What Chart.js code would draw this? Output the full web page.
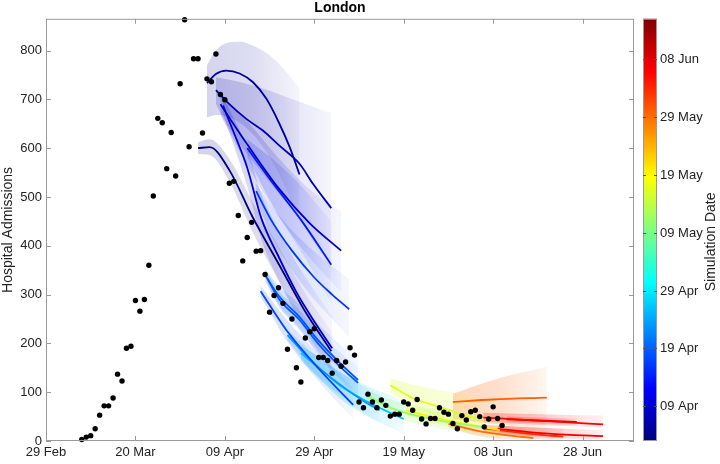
<!DOCTYPE html>
<html>
<head>
<meta charset="utf-8">
<title>London hospital admissions</title>
<script src="https://cdn.jsdelivr.net/npm/chart.js@4"></script>
<style>
  html, body { margin: 0; padding: 0; background: #fff; }
  #wrap { width: 720px; height: 464px; }
</style>
</head>
<body>
<div id="wrap"><canvas id="chart"></canvas></div>
<script>
// all x values are days counted from 29 Feb
const xTickDays = [0, 20, 40, 60, 80, 100, 120];
const xTickLabels = ["29 Feb", "20 Mar", "09 Apr", "29 Apr", "19 May", "08 Jun", "28 Jun"];
const yTicks = [0, 100, 200, 300, 400, 500, 600, 700, 800];
const cbTickDays = [40, 50, 60, 70, 80, 90, 100];
const cbTickLabels = ["09 Apr", "19 Apr", "29 Apr", "09 May", "19 May", "29 May", "08 Jun"];
const cbRange = [34, 107]; // 03 Apr .. 15 Jun

// daily admissions, first value is 08 Mar
const admissionsFirstDay = 8;
const admissions = [
  3, 8, 11, 25, 53, 72, 72, 88, 137, 123,
  190, 194, 288, 266, 290, 360, 502, 661, 652, 558,
  632, 543, 732, 863, 603, 783, 783, 631, 742, 736,
  793, 710, 699, 528, 532, 462, 369, 417, 448, 389,
  390, 341, 264, 298, 314, 282, 188, 250, 150, 121,
  211, 224, 230, 171, 171, 165, 139, 165, 153, 162,
  191, 176, 80, 68, 96, 80, 68, 84, 73, 51,
  55, 55, 80, 76, 63, 85, 45, 35, 46, 46,
  68, 59, 55, 36, 25, 52, 43, 60, 63, 50,
  29, 45, 70, 46, 32
];

// projections: simulation date, days, central line, upper and lower band
const simDays = [34, 36, 38, 39, 39.6, 45, 47, 49, 49.5, 48, 54, 57, 72, 77, 80.5, 90, 91, 95, 98, 99, 100];
const projDays = [
  [34, 36.6, 41, 46.2, 52.2, 57.8, 63.8],
  [36, 38, 40.3, 43.3, 46.3, 49.3, 52.2, 54.5, 56.7],
  [38, 41, 44.8, 48.5, 52.2, 56.7, 59.7, 63.8],
  [39, 45, 52, 59, 66],
  [39.6, 42, 45, 48.2, 52, 56, 60, 64],
  [45, 51, 57.1, 63.8],
  [47, 50.4, 55, 60, 64, 67.8],
  [49, 52, 56.7, 61, 65.7, 69.8],
  [49.5, 52, 56.7, 61, 65.7, 69.8],
  [48, 53.7, 61.2, 68.7],
  [54, 60, 66, 71, 74.6],
  [57, 61, 66, 72, 80],
  [71.6, 76, 80.6, 88, 97.8],
  [77, 82, 88, 93, 97.8],
  [80.5, 86, 92, 97, 101.5],
  [90, 96, 102, 109],
  [91, 100, 112],
  [97.8, 104, 110, 115.7],
  [97.8, 106, 115, 124.6],
  [101, 108, 116, 124.6],
  [103, 110, 118.7]
];
const projMid = [
  [600, 602, 555, 459, 360, 268, 184],
  [733, 752, 759, 753, 735, 701, 650, 602, 546],
  [719, 690, 660, 636, 605, 568, 527, 477],
  [690, 608, 518, 446, 390],
  [687, 632, 560, 455, 378, 305, 245, 190],
  [600, 525, 452, 361],
  [512, 452, 390, 335, 300, 270],
  [340, 298, 254, 205, 160, 125],
  [333, 292, 248, 198, 153, 119],
  [307, 228, 146, 74],
  [217, 158, 114, 82, 63],
  [180, 150, 112, 80, 45],
  [94, 72, 57, 42, 28],
  [114, 88, 70, 55, 43],
  [63, 50, 38, 30, 22],
  [35, 22, 13, 6],
  [80, 85, 89],
  [26, 19, 13, 9],
  [48, 44, 39, 34],
  [25, 18, 13, 10],
  [45, 42, 39]
];
const projHi = [
  [612, 618, 578, 490, 395, 305, 225],
  [770, 800, 815, 818, 810, 795, 772, 748, 722],
  [745, 740, 732, 722, 710, 695, 685, 672],
  [712, 655, 580, 515, 470],
  [705, 662, 600, 505, 432, 365, 308, 255],
  [618, 575, 522, 450],
  [528, 482, 432, 388, 358, 332],
  [352, 318, 280, 238, 198, 168],
  [343, 308, 268, 222, 182, 152],
  [318, 250, 175, 110],
  [228, 178, 140, 112, 95],
  [195, 172, 140, 112, 82],
  [105, 88, 76, 64, 52],
  [128, 115, 104, 97, 90],
  [72, 62, 52, 46, 40],
  [42, 32, 26, 22],
  [97, 125, 152],
  [34, 30, 27, 25],
  [58, 56, 54, 52],
  [32, 28, 25, 22],
  [50, 48, 46]
];
const projLo = [
  [588, 586, 532, 428, 325, 232, 145],
  [663, 668, 666, 652, 628, 592, 545, 500, 455],
  [690, 640, 590, 548, 505, 455, 410, 350],
  [668, 565, 460, 375, 305],
  [670, 605, 522, 412, 330, 258, 195, 140],
  [582, 478, 388, 282],
  [496, 420, 350, 290, 250, 212],
  [328, 280, 230, 178, 128, 90],
  [323, 276, 228, 175, 125, 88],
  [296, 208, 120, 45],
  [206, 140, 92, 58, 38],
  [165, 128, 85, 50, 15],
  [84, 58, 42, 25, 10],
  [100, 72, 50, 36, 25],
  [54, 38, 25, 16, 8],
  [28, 12, 4, 0],
  [45, 35, 25],
  [18, 10, 4, 0],
  [40, 35, 31, 27],
  [18, 10, 5, 2],
  [40, 36, 33]
];

const FONT = "'Liberation Sans', Arial, sans-serif";

function jet(f) {
  const c = v => Math.max(0, Math.min(1, v));
  return [
    c(Math.min(4 * f - 1.5, -4 * f + 4.5)),
    c(Math.min(4 * f - 0.5, -4 * f + 3.5)),
    c(Math.min(4 * f + 0.5, -4 * f + 2.5))
  ].map(v => Math.round(v * 255));
}
function rgba(c, a) {
  return `rgba(${c[0]},${c[1]},${c[2]},${a})`;
}
function simFrac(d) {
  return (d - cbRange[0]) / (cbRange[1] - cbRange[0]);
}

// band fades out towards the end of the projection
function bandFill(i) {
  return function(context) {
    const chart = context.chart;
    const xs = chart.scales.x;
    if (!chart.chartArea || !xs) return 'rgba(0,0,0,0)';
    const days = projDays[i];
    const x0 = xs.getPixelForValue(days[0]);
    const x1 = xs.getPixelForValue(days[days.length - 1]);
    const g = chart.ctx.createLinearGradient(x0, 0, x1 + 1, 0);
    const f = simFrac(simDays[i]);
    const c = jet(f);
    const a = f < 0.3 ? 0.17 : 0.26;
    g.addColorStop(0, rgba(c, a));
    g.addColorStop(0.5, rgba(c, a * 0.75));
    g.addColorStop(1, rgba(c, a * 0.2));
    return g;
  };
}

const datasets = [];
datasets.push({
  label: 'Admissions',
  data: admissions.map((v, i) => ({ x: admissionsFirstDay + i, y: v })),
  showLine: false,
  pointRadius: 2.7,
  pointBackgroundColor: '#000',
  pointBorderWidth: 0,
  clip: false,
  order: 1
});
simDays.forEach((d, i) => {
  const col = jet(simFrac(d));
  const pts = arr => projDays[i].map((x, k) => ({ x: x, y: arr[k] }));
  datasets.push({
    data: pts(projHi[i]), fill: '+1', backgroundColor: bandFill(i),
    borderColor: 'rgba(0,0,0,0)', borderWidth: 0, pointRadius: 0,
    cubicInterpolationMode: 'monotone', order: 3
  });
  datasets.push({
    data: pts(projLo[i]), fill: false,
    borderColor: 'rgba(0,0,0,0)', borderWidth: 0, pointRadius: 0,
    cubicInterpolationMode: 'monotone', order: 3
  });
  datasets.push({
    data: pts(projMid[i]), fill: false,
    borderColor: rgba(col, 1), borderWidth: 1.8, pointRadius: 0,
    cubicInterpolationMode: 'monotone', order: 2
  });
});

// box, inward ticks and the colour bar
const frame = {
  id: 'frame',
  afterDatasetsDraw(chart) {
    const { ctx, chartArea: a, scales } = chart;
    ctx.save();
    ctx.strokeStyle = '#9a9a9a';
    ctx.lineWidth = 1;
    ctx.strokeRect(a.left + 0.5, a.top + 0.5, a.right - a.left - 1, a.bottom - a.top - 1);
    ctx.beginPath();
    xTickDays.forEach(v => {
      const px = Math.round(scales.x.getPixelForValue(v)) + 0.5;
      ctx.moveTo(px, a.bottom); ctx.lineTo(px, a.bottom - 5);
      ctx.moveTo(px, a.top); ctx.lineTo(px, a.top + 5);
    });
    yTicks.forEach(v => {
      const py = Math.round(scales.y.getPixelForValue(v)) + 0.5;
      ctx.moveTo(a.left, py); ctx.lineTo(a.left + 5, py);
      ctx.moveTo(a.right, py); ctx.lineTo(a.right - 5, py);
    });
    ctx.stroke();

    // colour bar
    const bx = a.right + 9, bw = 14, top = a.top, bot = a.bottom;
    const g = ctx.createLinearGradient(0, bot, 0, top);
    for (let k = 0; k <= 64; k++) g.addColorStop(k / 64, rgba(jet(k / 64), 1));
    ctx.fillStyle = g;
    ctx.fillRect(bx, top, bw, bot - top);
    ctx.strokeStyle = '#9a9a9a';
    ctx.strokeRect(bx + 0.5, top + 0.5, bw - 1, bot - top - 1);
    ctx.fillStyle = '#222';
    ctx.font = `13px ${FONT}`;
    ctx.textBaseline = 'middle';
    ctx.textAlign = 'left';
    ctx.beginPath();
    cbTickDays.forEach((d, k) => {
      const py = Math.round(bot - simFrac(d) * (bot - top)) + 0.5;
      ctx.moveTo(bx + bw - 3, py); ctx.lineTo(bx + bw, py);
      ctx.moveTo(bx, py); ctx.lineTo(bx + 3, py);
      ctx.fillText(cbTickLabels[k], bx + bw + 3, py);
    });
    ctx.strokeStyle = '#555';
    ctx.stroke();
    ctx.translate(bx + bw + 54, (top + bot) / 2 + 12);
    ctx.rotate(-Math.PI / 2);
    ctx.textAlign = 'center';
    ctx.font = `14px ${FONT}`;
    ctx.fillText('Simulation Date', 0, 0);
    ctx.restore();
  }
};

Chart.defaults.font.family = FONT;
Chart.defaults.font.size = 13;
Chart.defaults.color = '#222';

new Chart(document.getElementById('chart'), {
  type: 'line',
  data: { datasets: datasets },
  options: {
    responsive: true,
    maintainAspectRatio: false,
    animation: false,
    events: [],
    layout: { padding: { left: 0, right: 86, top: 0, bottom: 0 } },
    plugins: {
      legend: { display: false },
      tooltip: { enabled: false },
      title: {
        display: true, text: 'London', fullSize: false, color: '#000',
        font: { size: 14, weight: 'bold' }, padding: { top: 0, bottom: 2 }
      }
    },
    scales: {
      x: {
        type: 'linear', min: 0, max: 131.5,
        grid: { display: false, drawTicks: false },
        border: { display: false },
        afterBuildTicks: s => { s.ticks = xTickDays.map(v => ({ value: v })); },
        afterFit: s => { s.height = 23; },
        ticks: {
          autoSkip: false, maxRotation: 0, padding: 4,
          callback: v => xTickLabels[xTickDays.indexOf(v)]
        }
      },
      y: {
        min: 0, max: 865,
        grid: { display: false, drawTicks: false },
        border: { display: false },
        afterBuildTicks: s => { s.ticks = yTicks.map(v => ({ value: v })); },
        afterFit: s => { s.width = 46; },
        ticks: { padding: 4 },
        title: { display: true, text: 'Hospital Admissions', font: { size: 14 }, padding: 0 }
      }
    }
  },
  plugins: [frame]
});
</script>
</body>
</html>
